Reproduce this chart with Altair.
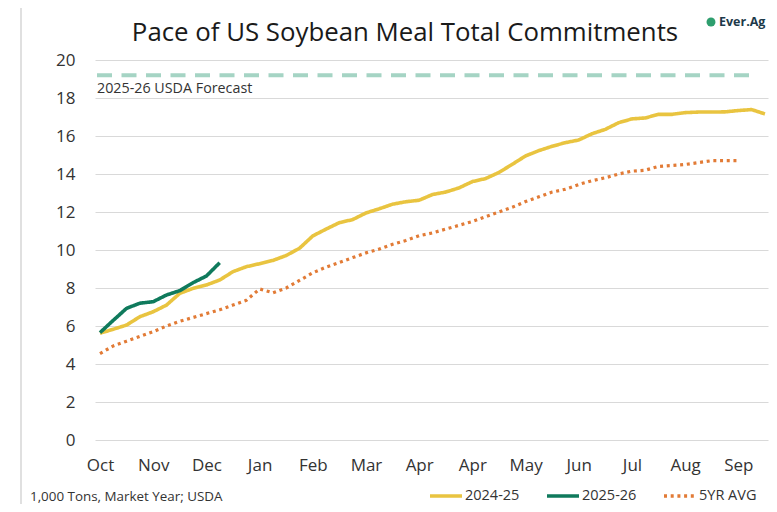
import altair as alt
import pandas as pd

# ---------------- data ----------------
series_names = ["2024-25", "2025-26", "5YR AVG"]
series_colors = ["#E9C440", "#0F7A5C", "#E27B36"]
series_dash = [[1, 0], [1, 0], [3, 3.7]]

month_labels = ["Oct", "Nov", "Dec", "Jan", "Feb", "Mar", "Apr", "Apr",
                "May", "Jun", "Jul", "Aug", "Sep"]
label_weeks = [0, 4, 8, 12, 16, 20, 24, 28, 32, 36, 40, 44, 48]

y_2024_25 = [5.62, 5.83, 6.05, 6.49, 6.75, 7.10, 7.72, 7.98, 8.16, 8.42,
             8.86, 9.12, 9.28, 9.45, 9.71, 10.09, 10.74, 11.10, 11.44, 11.60,
             11.95, 12.17, 12.41, 12.54, 12.62, 12.92, 13.05, 13.27, 13.60, 13.76,
             14.08, 14.51, 14.95, 15.23, 15.46, 15.65, 15.79, 16.12, 16.35, 16.70,
             16.90, 16.95, 17.14, 17.14, 17.23, 17.26, 17.26, 17.27, 17.34, 17.39,
             17.16]
y_2025_26 = [5.65, 6.30, 6.93, 7.20, 7.28, 7.63, 7.86, 8.28, 8.63, 9.33]
y_5yr_avg = [4.55, 4.95, 5.20, 5.45, 5.70, 6.00, 6.25, 6.45, 6.65, 6.85,
             7.10, 7.35, 7.95, 7.75, 8.00, 8.40, 8.80, 9.10, 9.35, 9.60,
             9.85, 10.05, 10.30, 10.50, 10.75, 10.90, 11.10, 11.30, 11.50, 11.75,
             12.00, 12.25, 12.55, 12.80, 13.05, 13.20, 13.45, 13.65, 13.80, 14.00,
             14.15, 14.20, 14.40, 14.45, 14.50, 14.60, 14.70, 14.70, 14.70]

forecast_value = [19.2]
forecast_label = "2025-26 USDA Forecast"
title_text = "Pace of US Soybean Meal Total Commitments"
footnote_text = "1,000 Tons, Market Year; USDA"
logo_text = "Ever.Ag"
y_ticks = [0, 2, 4, 6, 8, 10, 12, 14, 16, 18, 20]

rows = []
for name, vals in zip(series_names, [y_2024_25, y_2025_26, y_5yr_avg]):
    for i, v in enumerate(vals):
        rows.append({"week": i, "value": v, "series": name})
df = pd.DataFrame(rows)

FONT = "Open Sans"

# ---------------- scales / encodings ----------------
x_scale = alt.Scale(domain=[-0.376, 50.23], nice=False, zero=False)
y_scale = alt.Scale(domain=[0, 20], nice=False)

label_expr = "[" + ",".join("'%s'" % m for m in month_labels) + "][round(datum.value/4)]"

x_enc = alt.X("week:Q", scale=x_scale,
              axis=alt.Axis(values=label_weeks, labelExpr=label_expr, grid=False,
                            domain=False, ticks=False, labelFontSize=17,
                            labelColor="#333333", labelPadding=17, title=None,
                            labelFont=FONT, labelOverlap=False))
y_axis = alt.Axis(values=y_ticks, grid=True, gridColor="#D9D9D9",
                  gridWidth=1, domain=False, ticks=False,
                  labelFontSize=17, labelColor="#333333",
                  labelPadding=20, title=None, labelFont=FONT,
                  labelOverlap=False)
y_enc = alt.Y("value:Q", scale=y_scale, axis=y_axis)

legend = alt.Legend(orient="none", legendX=333, legendY=418, direction="horizontal",
                    title=None, symbolType="stroke", symbolSize=1024,
                    symbolStrokeWidth=3.5, labelFontSize=14.5, labelFont=FONT,
                    labelColor="#333333", labelOffset=1, columnPadding=20)

color_enc = alt.Color("series:N", scale=alt.Scale(domain=series_names, range=series_colors),
                      legend=legend)
dash_enc = alt.StrokeDash("series:N", scale=alt.Scale(domain=series_names, range=series_dash),
                          legend=legend)

base = alt.Chart(df)

dotted = base.transform_filter(alt.datum.series == "5YR AVG").mark_line(
    strokeWidth=3.2, strokeCap="butt").encode(x=x_enc, y=y_enc, color=color_enc,
                                             strokeDash=dash_enc)

solid = base.transform_filter(alt.datum.series != "5YR AVG").mark_line(
    strokeWidth=3.6, strokeJoin="round").encode(x=x_enc, y=y_enc, color=color_enc,
                                               strokeDash=dash_enc)

fc_df = pd.DataFrame({"value": forecast_value})
forecast = alt.Chart(fc_df).mark_rule(strokeDash=[15, 9.5], strokeWidth=4,
                                      color="#A5D4C4").encode(
    y=y_enc, x=alt.value(2), x2=alt.value(658))

fc_text = alt.Chart(pd.DataFrame({"t": [forecast_label]})).mark_text(
    align="left", baseline="middle", fontSize=14.3, font=FONT, color="#333333").encode(
    x=alt.value(2), y=alt.value(29), text="t:N")

title = alt.Chart(pd.DataFrame({"t": [title_text]})).mark_text(
    align="center", baseline="middle", fontSize=25.8, font=FONT, color="#1A1A1A").encode(
    x=alt.value(310), y=alt.value(-27), text="t:N")

footnote = alt.Chart(pd.DataFrame({"t": [footnote_text]})).mark_text(
    align="left", baseline="middle", fontSize=13.4, font=FONT, color="#333333").encode(
    x=alt.value(-65), y=alt.value(437), text="t:N")

logo = alt.Chart(pd.DataFrame({"t": [logo_text]})).mark_text(
    align="left", baseline="middle", fontSize=12.5, font=FONT, fontWeight="bold",
    color="#1D3A4A").encode(x=alt.value(624), y=alt.value(-38), text="t:N")

logo_icon = alt.Chart(pd.DataFrame({"t": [logo_text]})).mark_point(
    filled=True, shape="circle", size=80, color="#2E9E6E", opacity=1).encode(
    x=alt.value(616), y=alt.value(-38))

border = alt.Chart(pd.DataFrame({"t": [0]})).mark_rule(color="#D6D6D6", strokeWidth=1.5).encode(
    x=alt.value(-74), y=alt.value(-60), y2=alt.value(450))

chart = alt.layer(border, forecast, fc_text, dotted, solid, title, footnote,
                  logo_icon, logo).properties(
    width=673, height=380,
    autosize=alt.AutoSizeParams(type="none"),
    padding={"left": 87, "top": 52, "right": 1, "bottom": 64},
).configure(font=FONT).configure_view(stroke=None)

chart.save("out.html", embed_options={"renderer": "svg", "actions": False})
